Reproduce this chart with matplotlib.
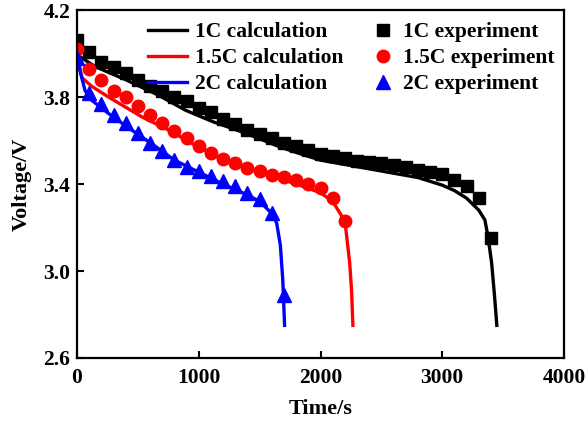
import matplotlib
matplotlib.use("Agg")
import matplotlib.pyplot as plt

plt.rcParams["font.family"] = ["Liberation Serif", "DejaVu Serif"]
plt.rcParams["font.weight"] = "bold"

# experiment points (every 100 s)
t_1c_exp = [0, 100, 200, 300, 400, 500, 600, 700, 800, 900, 1000, 1100, 1200, 1300,
            1400, 1500, 1600, 1700, 1800, 1900, 2000, 2100, 2200, 2300, 2400, 2500,
            2600, 2700, 2800, 2900, 3000, 3100, 3200, 3300, 3400]
v_1c_exp = [4.065, 4.007, 3.962, 3.94, 3.91, 3.88, 3.85, 3.83, 3.80, 3.78, 3.75, 3.73,
            3.70, 3.676, 3.65, 3.63, 3.61, 3.59, 3.575, 3.556, 3.54, 3.53, 3.52, 3.506,
            3.50, 3.496, 3.487, 3.48, 3.465, 3.455, 3.446, 3.42, 3.39, 3.335, 3.15]

t_15c_exp = [0, 100, 200, 300, 400, 500, 600, 700, 800, 900, 1000, 1100, 1200, 1300,
             1400, 1500, 1600, 1700, 1800, 1900, 2000, 2100, 2200]
v_15c_exp = [4.02, 3.93, 3.88, 3.83, 3.80, 3.76, 3.72, 3.68, 3.645, 3.61, 3.575, 3.545,
             3.515, 3.495, 3.475, 3.458, 3.444, 3.432, 3.418, 3.40, 3.38, 3.335, 3.23]

t_2c_exp = [0, 100, 200, 300, 400, 500, 600, 700, 800, 900, 1000, 1100, 1200, 1300,
            1400, 1500, 1600, 1700]
v_2c_exp = [3.98, 3.82, 3.77, 3.72, 3.68, 3.635, 3.59, 3.55, 3.51, 3.48, 3.46, 3.435,
            3.415, 3.39, 3.36, 3.33, 3.265, 2.89]

# calculation curves
t_1c_calc = [0, 150, 400, 665, 890, 1120, 1390, 1670, 1830, 2000, 2500, 2800, 3000,
             3100, 3200, 3300, 3350, 3375, 3405, 3430, 3448]
v_1c_calc = [3.995, 3.94, 3.88, 3.81, 3.74, 3.686, 3.633, 3.57, 3.54, 3.51, 3.46, 3.43,
             3.395, 3.37, 3.335, 3.28, 3.235, 3.16, 3.04, 2.88, 2.75]

t_15c_calc = [0, 40, 120, 260, 530, 800, 900, 1200, 1500, 1800, 2000, 2100, 2200,
              2215, 2240, 2255, 2266]
v_15c_calc = [4.0, 3.89, 3.85, 3.80, 3.71, 3.635, 3.60, 3.51, 3.455, 3.40, 3.36, 3.32,
              3.23, 3.16, 3.035, 2.91, 2.75]

t_2c_calc = [0, 25, 66, 120, 256, 394, 531, 665, 800, 1000, 1200, 1400, 1500, 1600,
             1640, 1670, 1690, 1705]
v_2c_calc = [3.99, 3.92, 3.83, 3.786, 3.726, 3.67, 3.617, 3.565, 3.51, 3.455, 3.40,
             3.35, 3.32, 3.265, 3.22, 3.12, 2.96, 2.75]

fig = plt.figure(figsize=(5.86, 4.23), dpi=100)
ax = fig.add_axes([0.1314, 0.1537, 0.8311, 0.8223])

l1, = ax.plot(t_1c_calc, v_1c_calc, color="black", lw=2.4, label="1C calculation")
l2, = ax.plot(t_15c_calc, v_15c_calc, color="red", lw=2.4, label="1.5C calculation")
l3, = ax.plot(t_2c_calc, v_2c_calc, color="blue", lw=2.4, label="2C calculation")
m1, = ax.plot(t_1c_exp, v_1c_exp, "s", color="black", ms=8.5, label="1C experiment")
m2, = ax.plot(t_15c_exp, v_15c_exp, "o", color="red", ms=9, label="1.5C experiment")
m3, = ax.plot(t_2c_exp, v_2c_exp, "^", color="blue", ms=9.5, label="2C experiment")

ax.set_xlim(0, 4000)
ax.set_ylim(2.6, 4.2)
ax.set_xticks([0, 1000, 2000, 3000, 4000])
ax.set_yticks([2.6, 3.0, 3.4, 3.8, 4.2])
ax.set_xticklabels(["0", "1000", "2000", "3000", "4000"])
ax.set_yticklabels(["2.6", "3.0", "3.4", "3.8", "4.2"])
ax.tick_params(direction="in", length=5, width=1.5, labelsize=15.5)
ax.tick_params(axis="x", pad=7)
ax.tick_params(axis="y", pad=5)
for s in ax.spines.values():
    s.set_linewidth(1.6)
ax.set_xlabel("Time/s", fontsize=16, fontweight="bold", labelpad=8)
ax.set_ylabel("Voltage/V", fontsize=16, fontweight="bold", labelpad=8)

# two legends, lines on the left and markers on the right
leg_font = {"weight": "bold", "size": 15.5}
leg1 = ax.legend(handles=[l1, l2, l3], frameon=False,
                 loc="upper left", bbox_to_anchor=(148 / 586, 1 - 22 / 423),
                 bbox_transform=fig.transFigure, borderpad=0, borderaxespad=0,
                 handlelength=1.8, handletextpad=0.38, labelspacing=0.28, prop=leg_font)
ax.add_artist(leg1)
ax.legend(handles=[m1, m2, m3], frameon=False,
          loc="upper left", bbox_to_anchor=(372 / 586, 1 - 22 / 423),
          bbox_transform=fig.transFigure, borderpad=0, borderaxespad=0,
          handlelength=1.0, handletextpad=0.44, labelspacing=0.28, prop=leg_font)

fig.savefig("out.png", dpi=100)
